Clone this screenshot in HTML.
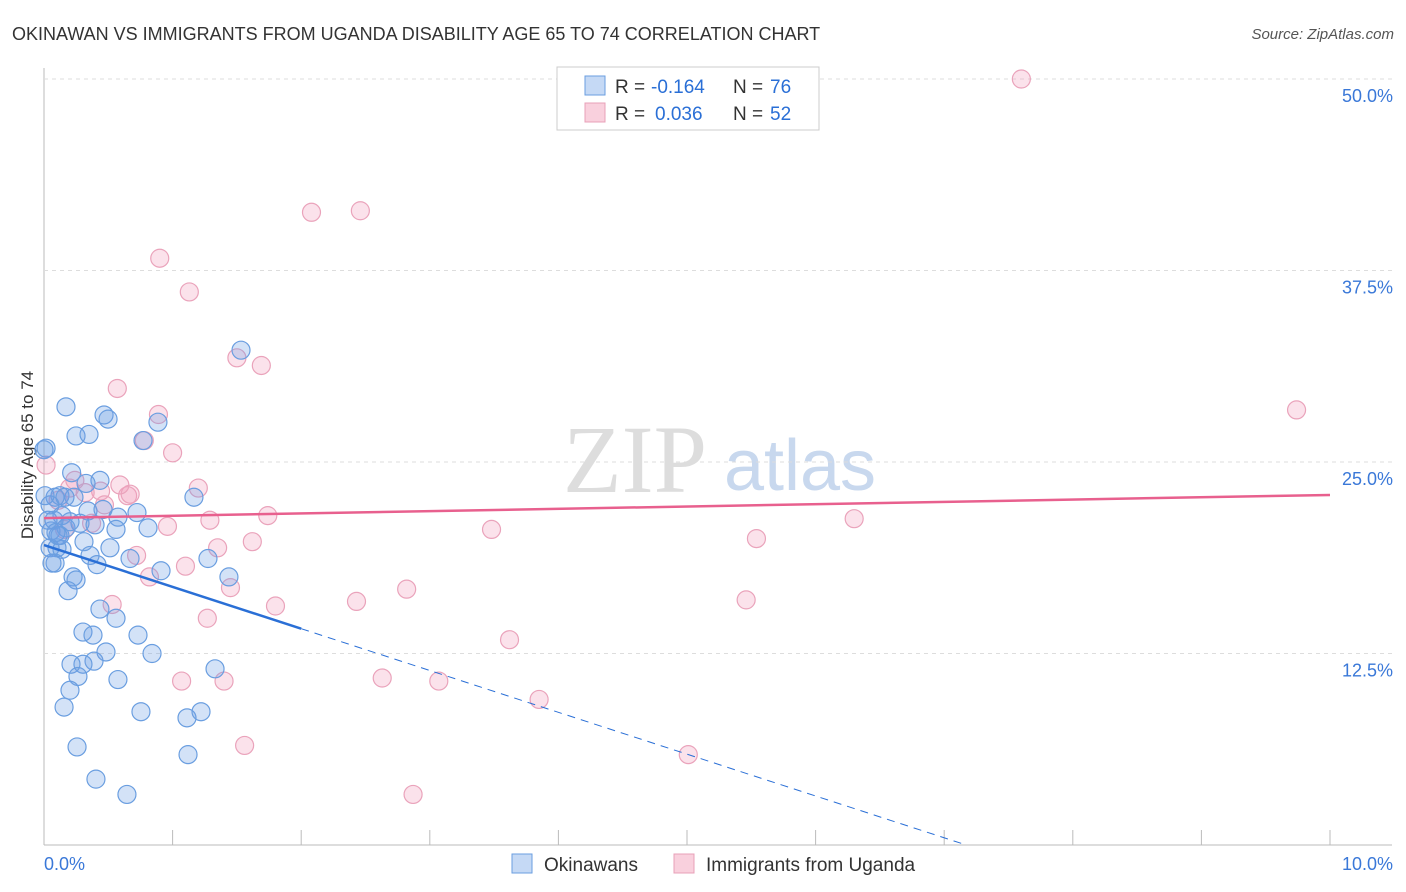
<!DOCTYPE html>
<html><head><meta charset="utf-8"><style>
body{margin:0;background:#fff;font-family:"Liberation Sans",sans-serif}
svg{display:block}
</style></head><body>
<svg id="c" width="1406" height="892">
<text x="12" y="40" font-size="18" fill="#333">OKINAWAN VS IMMIGRANTS FROM UGANDA DISABILITY AGE 65 TO 74 CORRELATION CHART</text>
<text x="1394" y="39" font-size="15" fill="#555" font-style="italic" text-anchor="end">Source: ZipAtlas.com</text>
<text x="33" y="455" font-size="17" fill="#333" text-anchor="middle" transform="rotate(-90 33 455)">Disability Age 65 to 74</text>
<g><text x="635" y="492" font-size="96" fill="#ddd" font-family="Liberation Serif,serif" text-anchor="middle">ZIP</text><text x="800" y="490" font-size="72" fill="#c8d8ee" text-anchor="middle">atlas</text></g>
<g id="grid"></g><g id="marks"></g>
<g>
<rect x="557" y="67" width="262" height="63" fill="#fff" stroke="#ccc"/>
<rect x="585" y="76" width="20" height="19" fill="#c5d9f5" stroke="#6a9ee0"/>
<rect x="585" y="103" width="20" height="19" fill="#f9d0dd" stroke="#e8a0b8"/>
<text x="615" y="93" font-size="19" fill="#333">R =</text><text x="651" y="93" font-size="19" fill="#2a6fd6">-0.164</text>
<text x="733" y="93" font-size="19" fill="#333">N =</text><text x="770" y="93" font-size="19" fill="#2a6fd6">76</text>
<text x="615" y="120" font-size="19" fill="#333">R =</text><text x="655" y="120" font-size="19" fill="#2a6fd6">0.036</text>
<text x="733" y="120" font-size="19" fill="#333">N =</text><text x="770" y="120" font-size="19" fill="#2a6fd6">52</text>
</g>
<g>
<rect x="512" y="854" width="20" height="19" fill="#c5d9f5" stroke="#6a9ee0"/>
<text x="544" y="871" font-size="19" fill="#333">Okinawans</text>
<rect x="674" y="854" width="20" height="19" fill="#f9d0dd" stroke="#e8a0b8"/>
<text x="706" y="871" font-size="19" fill="#333">Immigrants from Uganda</text>
</g>
</svg>
<script>
const yTicks=[50,37.5,25,12.5];
const yTickLabels=["50.0%","37.5%","25.0%","12.5%"];
const xTickLabels=["0.0%","10.0%"];
const blueX=[0.171,0.467,0.498,0.886,0.77,0.249,0.35,0.016,0.215,0.435,0.327,0.124,0.086,0.233,1.166,0.342,0.459,0.575,0.723,0.14,0.171,0.56,0.809,0.054,0.311,0.513,0.101,0.047,0.14,0.358,0.412,0.086,1.275,0.91,0.226,0.249,1.438,0.187,0.435,0.56,0.303,0.381,0.731,0.84,0.482,0.389,0.303,0.21,1.33,0.264,0.575,0.202,0.156,0.754,1.112,1.221,0.257,1.12,0.404,0.645,1.532,0.047,0.078,0.109,0.062,0.163,0.008,0.031,0.28,0.124,0.202,0.093,0.397,0.669,0.0];
const blueY=[28.6,28.07,27.8,27.6,26.4,26.7,26.8,25.9,24.3,23.8,23.6,22.8,22.7,22.7,22.7,21.8,21.9,21.4,21.7,21.5,20.7,20.6,20.7,20.5,19.8,19.4,19.4,19.4,19.3,18.9,18.3,18.4,18.7,17.9,17.5,17.3,17.5,16.6,15.4,14.8,13.9,13.7,13.7,12.5,12.6,12.0,11.8,11.8,11.5,11.0,10.8,10.1,9.0,8.7,8.3,8.7,6.4,5.9,4.3,3.3,32.3,22.2,21.2,20.2,18.4,22.7,22.8,21.2,21.0,20.2,21.1,20.4,20.9,18.7,25.8];
const pinkX=[7.6,2.08,2.46,0.9,1.13,1.5,1.69,0.57,0.89,0.78,1.0,0.016,1.2,0.65,0.67,0.2,0.44,0.24,0.11,0.47,1.29,1.74,0.96,0.37,3.48,6.3,1.62,1.35,5.54,0.72,1.1,0.82,1.45,2.82,1.8,2.43,0.53,5.46,1.27,9.74,3.62,1.07,1.4,2.63,3.07,3.85,5.01,1.56,2.87,0.32,0.16,0.59];
const pinkY=[50.0,41.3,41.4,38.3,36.1,31.8,31.3,29.8,28.1,26.4,25.6,24.8,23.3,22.8,22.9,23.3,23.1,23.8,22.5,22.2,21.2,21.5,20.8,21.0,20.6,21.3,19.8,19.4,20.0,18.9,18.2,17.5,16.8,16.7,15.6,15.9,15.7,16.0,14.8,28.4,13.4,10.7,10.7,10.9,10.7,9.5,5.9,6.5,3.3,23.0,20.6,23.5];
const pinkTrend=[21.34,22.85];
const blueTrend=[19.58,-2.73];
const X=v=>44+v*128.6, Y=v=>845-v*15.32;
const NS="http://www.w3.org/2000/svg";
const grid=document.getElementById('grid'), marks=document.getElementById('marks');
function mk(p,tag,at){const e=document.createElementNS(NS,tag);for(const k in at)e.setAttribute(k,at[k]);p.appendChild(e);return e;}
let ax=mk(grid,'line',{x1:44,y1:68,x2:44,y2:845,stroke:'#bbb'});


let bx=mk(grid,'line',{x1:44,y1:845,x2:1392,y2:845,stroke:'#bbb'});


yTicks.forEach((t,i)=>{
 let g=mk(grid,'line',{x1:44,y1:Y(t),x2:1392,y2:Y(t),stroke:'#ddd','stroke-dasharray':'4,4'});
 
 
 let l=mk(grid,'text',{x:1393,y:Y(t)+23,'font-size':18,fill:'#3a78d8','text-anchor':'end'});l.textContent=yTickLabels[i];
 
 
});
for(let i=0;i<=10;i++){let t=mk(grid,'line',{x1:X(i),y1:830,x2:X(i),y2:845,stroke:'#bbb'});
 
 }
[[0,44,'start'],[10,1393,'end']].forEach((d,i)=>{let l=mk(grid,'text',{x:d[1],y:870,'font-size':18,fill:'#3a78d8','text-anchor':d[2]});l.textContent=xTickLabels[i];
 
 });
pinkX.forEach((x,i)=>{let c=mk(marks,'circle',{cx:X(x),cy:Y(pinkY[i]),r:9,fill:'rgba(243,160,190,0.3)',stroke:'#eaa3bb','stroke-width':1.2});
 
 });
blueX.forEach((x,i)=>{let c=mk(marks,'circle',{cx:X(x),cy:Y(blueY[i]),r:9,fill:'rgba(110,160,230,0.3)',stroke:'#6a9ee0','stroke-width':1.2});
 
 });
let pl=mk(marks,'line',{x1:X(0),y1:Y(pinkTrend[0]),x2:X(10),y2:Y(pinkTrend[1]),stroke:'#e8608e','stroke-width':2.5});


const bEnd=2, z=-blueTrend[0]/blueTrend[1];
let bl=mk(marks,'line',{x1:X(0),y1:Y(blueTrend[0]),x2:X(bEnd),y2:Y(blueTrend[0]+blueTrend[1]*bEnd),stroke:'#2a6fd6','stroke-width':2.5});


let bd=mk(marks,'line',{x1:X(bEnd),y1:Y(blueTrend[0]+blueTrend[1]*bEnd),x2:X(z),y2:Y(0),stroke:'#2a6fd6','stroke-width':1,'stroke-dasharray':'8,6'});


</script>
</body></html>
